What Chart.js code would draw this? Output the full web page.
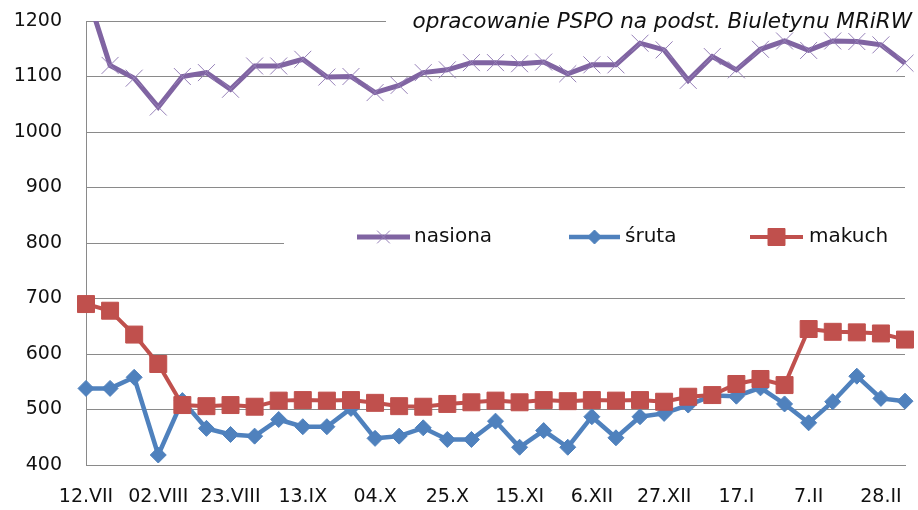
<!DOCTYPE html>
<html>
<head>
<meta charset="utf-8">
<script src="https://cdn.jsdelivr.net/npm/chart.js@4.4.0/dist/chart.umd.min.js"></script>
<style>
  html, body { margin: 0; padding: 0; background: #fff; }
  #wrap { width: 918px; height: 510px; }
</style>
</head>
<body>
<div id="wrap"><canvas id="chart" width="918" height="510"></canvas></div>
<script>
// weekly quotations, 12.VII .. 7.III
var weeks = ["12.VII", "19.VII", "26.VII", "02.VIII", "09.VIII", "16.VIII", "23.VIII", "30.VIII",
  "06.IX", "13.IX", "20.IX", "27.IX", "04.X", "11.X", "18.X", "25.X", "01.XI", "08.XI",
  "15.XI", "22.XI", "29.XI", "6.XII", "13.XII", "20.XII", "27.XII", "3.I", "10.I", "17.I",
  "24.I", "31.I", "7.II", "14.II", "21.II", "28.II", "7.III"];

var nasiona = [1255, 1120, 1097, 1045, 1100, 1107, 1077, 1119, 1119, 1131, 1099, 1100, 1071,
  1084, 1107, 1112, 1125, 1125, 1123, 1126, 1105, 1121, 1121, 1160, 1148, 1093, 1136, 1112,
  1149, 1164, 1147, 1164, 1163, 1157, 1124];

var sruta = [538, 538, 558, 418, 516, 466, 455, 452, 482, 469, 469, 502, 448, 452, 467, 446,
  446, 479, 432, 462, 432, 487, 449, 487, 493, 508, 525, 524, 539, 510, 476, 514, 560, 520, 515];

var makuch = [690, 678, 635, 582, 508, 506, 508, 505, 516, 517, 516, 517, 512, 506, 505, 510,
  513, 516, 513, 517, 515, 517, 516, 517, 514, 523, 526, 546, 555, 544, 645, 640, 639, 637, 626];

var seriesNames = ["nasiona", "śruta", "makuch"];
var yMin = 400, yMax = 1200, yStep = 100;
var labelEvery = 3;
var source = "opracowanie PSPO na podst. Biuletynu MRiRW";

var gridColor = "#8a8a8a";
var textColor = "#111";

function drawMarker(ctx, style, x, y, r) {
  ctx.beginPath();
  if (style === "crossRot") {
    var d = r * Math.SQRT1_2;
    ctx.moveTo(x - d, y - d); ctx.lineTo(x + d, y + d);
    ctx.moveTo(x - d, y + d); ctx.lineTo(x + d, y - d);
    ctx.stroke();
    return;
  }
  if (style === "rectRot") {
    ctx.moveTo(x - r, y); ctx.lineTo(x, y - r); ctx.lineTo(x + r, y); ctx.lineTo(x, y + r);
  } else {
    var s = r * Math.SQRT1_2;
    ctx.rect(x - s, y - s, 2 * s, 2 * s);
  }
  ctx.closePath();
  ctx.fill();
  ctx.stroke();
}

// source note and legend sit inside the plot, on white patches over the gridlines
var overlay = {
  id: "overlay",
  beforeDatasetsDraw: function(chart) {
    var ctx = chart.ctx;
    ctx.save();
    ctx.fillStyle = "#fff";
    ctx.fillRect(386, 8, 532, 24);
    ctx.fillStyle = textColor;
    ctx.font = 'italic 21.5px "DejaVu Sans"';
    ctx.textAlign = "right";
    ctx.textBaseline = "alphabetic";
    ctx.fillText(source, 912, 28);

    ctx.fillStyle = "#fff";
    ctx.fillRect(284, 220, 634, 36);
    var slots = [[357, 410, 414], [569, 620, 625], [750, 803, 809]];
    var markR = [9, 7, 12];
    var ly = 237;
    [0, 1, 2].forEach(function(i) {
      var ds = chart.data.datasets[i];
      var sl = slots[i];
      ctx.strokeStyle = ds.borderColor;
      ctx.lineWidth = ds.borderWidth;
      ctx.beginPath();
      ctx.moveTo(sl[0], ly); ctx.lineTo(sl[1], ly);
      ctx.stroke();
      ctx.strokeStyle = ds.pointBorderColor || ds.borderColor;
      ctx.fillStyle = ds.backgroundColor;
      ctx.lineWidth = 1;
      drawMarker(ctx, ds.pointStyle, (sl[0] + sl[1]) / 2, ly, markR[i]);
      ctx.fillStyle = textColor;
      ctx.font = '20px "DejaVu Sans"';
      ctx.textAlign = "left";
      ctx.textBaseline = "middle";
      ctx.fillText(ds.label, sl[2], ly);
    });
    ctx.restore();
  }
};

function noPad(s) {
  s.paddingTop = 0; s.paddingBottom = 0;
  s.paddingLeft = 0; s.paddingRight = 0;
}

var ctx = document.getElementById("chart").getContext("2d");
var chart = new Chart(ctx, {
  type: "line",
  data: {
    labels: weeks,
    datasets: [{
      label: seriesNames[0],
      data: nasiona,
      borderColor: "#8064A2",
      backgroundColor: "#8064A2",
      pointBorderColor: "#9680b8",
      borderWidth: 5,
      pointStyle: "crossRot",
      pointRadius: 12,
      pointBorderWidth: 1,
      order: 3
    }, {
      label: seriesNames[1],
      data: sruta,
      borderColor: "#4F81BD",
      backgroundColor: "#4F81BD",
      borderWidth: 4.5,
      pointStyle: "rectRot",
      pointRadius: 8,
      pointBorderWidth: 1,
      order: 2
    }, {
      label: seriesNames[2],
      data: makuch,
      borderColor: "#C0504D",
      backgroundColor: "#C0504D",
      borderWidth: 4,
      pointStyle: "rect",
      pointRadius: 12,
      pointBorderWidth: 1,
      order: 1
    }]
  },
  options: {
    responsive: false,
    animation: false,
    devicePixelRatio: 1,
    events: [],
    layout: { padding: { top: 21, right: 10, left: 0, bottom: 0 } },
    plugins: {
      legend: { display: false },
      tooltip: { enabled: false }
    },
    scales: {
      x: {
        offset: false,
        grid: { display: false, drawTicks: false },
        border: { display: true, color: gridColor, width: 1 },
        ticks: {
          autoSkip: false,
          maxRotation: 0,
          minRotation: 0,
          padding: 21,
          color: textColor,
          font: { family: "DejaVu Sans", size: 19 },
          callback: function(val, idx) {
            return idx % labelEvery === 0 ? weeks[idx] : "";
          }
        },
        afterFit: function(s) { s.height = 45; noPad(s); }
      },
      y: {
        min: yMin,
        max: yMax,
        grid: { color: gridColor, lineWidth: 1, drawTicks: false },
        border: { display: true, color: gridColor, width: 1 },
        ticks: {
          stepSize: yStep,
          padding: 24,
          color: textColor,
          font: { family: "DejaVu Sans", size: 19 },
          callback: function(v) { return String(v); }
        },
        afterFit: function(s) { s.width = 86; noPad(s); }
      }
    }
  },
  plugins: [overlay]
});
</script>
</body>
</html>
